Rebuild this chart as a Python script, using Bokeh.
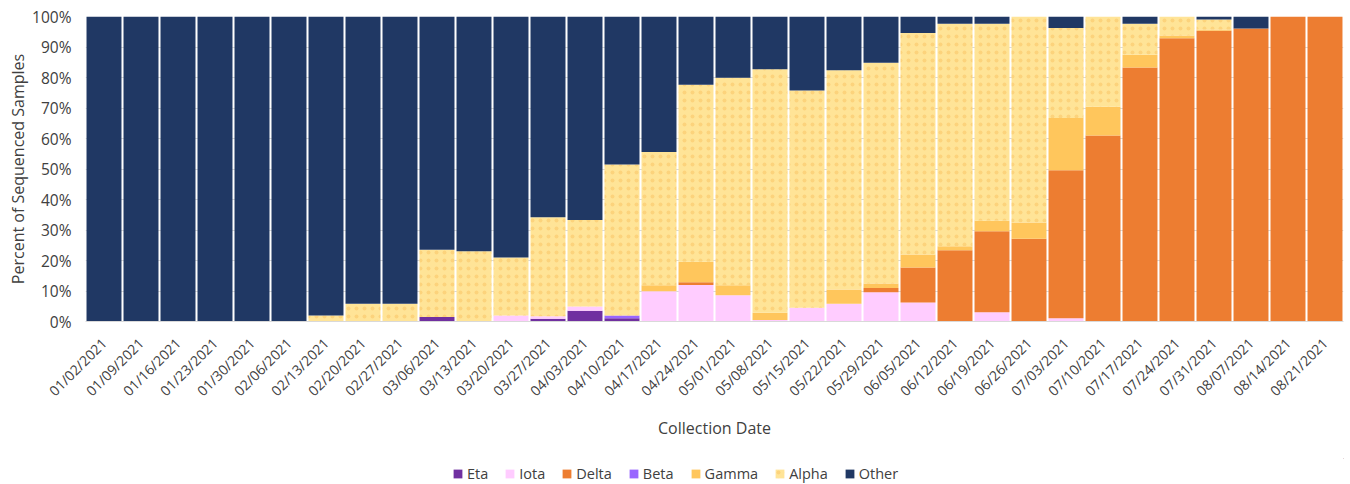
from bokeh.plotting import figure
from bokeh.models import Range1d, FactorRange, Legend, LegendItem, PrintfTickFormatter, FixedTicker
from bokeh.layouts import column
from bokeh.embed import file_html
from bokeh.resources import INLINE
import math

dates = ["01/02/2021", "01/09/2021", "01/16/2021", "01/23/2021", "01/30/2021", "02/06/2021",
         "02/13/2021", "02/20/2021", "02/27/2021", "03/06/2021", "03/13/2021", "03/20/2021",
         "03/27/2021", "04/03/2021", "04/10/2021", "04/17/2021", "04/24/2021", "05/01/2021",
         "05/08/2021", "05/15/2021", "05/22/2021", "05/29/2021", "06/05/2021", "06/12/2021",
         "06/19/2021", "06/26/2021", "07/03/2021", "07/10/2021", "07/17/2021", "07/24/2021",
         "07/31/2021", "08/07/2021", "08/14/2021", "08/21/2021"]

eta = [0, 0, 0, 0, 0, 0, 0, 0, 0, 1.5, 0, 0, 0.9, 3.5, 1.1, 0, 0, 0,
       0, 0, 0, 0, 0, 0, 0, 0, 0, 0, 0, 0, 0, 0, 0, 0]
iota = [0, 0, 0, 0, 0, 0, 0, 0, 0, 0, 0, 2.0, 0.8, 1.4, 0, 9.9, 12.0, 8.6,
        0.5, 4.5, 5.8, 9.6, 6.2, 0, 3.0, 0, 1.1, 0, 0, 0, 0, 0, 0, 0]
delta = [0, 0, 0, 0, 0, 0, 0, 0, 0, 0, 0, 0, 0, 0, 0, 0, 0.9, 0,
         0, 0, 0, 1.4, 11.5, 23.4, 26.6, 27.1, 48.5, 61.0, 83.3, 92.9, 95.3, 96.1, 100, 100]
beta = [0, 0, 0, 0, 0, 0, 0, 0, 0, 0, 0, 0, 0, 0, 0.9, 0, 0, 0,
        0, 0, 0, 0, 0, 0, 0, 0, 0, 0, 0, 0, 0, 0, 0, 0]
gamma = [0, 0, 0, 0, 0, 0, 0, 0, 0, 0, 0, 0, 0, 0, 0, 2.0, 6.7, 3.3,
         2.4, 0, 4.7, 1.5, 4.3, 1.3, 3.4, 5.4, 17.1, 9.4, 4.2, 0.9, 0.4, 0, 0, 0]
alpha = [0, 0, 0, 0, 0, 0, 2.0, 5.8, 5.8, 22.0, 23.0, 19.0, 32.5, 28.4, 49.5, 43.7, 58.0, 68.0,
         79.8, 71.2, 71.9, 72.3, 72.6, 72.9, 64.6, 67.5, 29.5, 29.6, 10.1, 6.2, 3.3, 0, 0, 0]
other = [100, 100, 100, 100, 100, 100, 98.0, 94.2, 94.2, 76.5, 77.0, 79.0, 65.8, 66.7, 48.5, 44.4, 22.4, 20.1,
         17.3, 24.3, 17.6, 15.2, 5.4, 2.4, 2.4, 0, 3.8, 0, 2.4, 0, 1.0, 3.9, 0, 0]

series = ["Eta", "Iota", "Delta", "Beta", "Gamma", "Alpha", "Other"]
colors = ["#7030a0", "#ffccff", "#ed7d31", "#9966ff", "#ffc65c", "#ffe497", "#203864"]
y_ticks = [0, 10, 20, 30, 40, 50, 60, 70, 80, 90, 100]

data = {"date": dates, "Eta": eta, "Iota": iota, "Delta": delta, "Beta": beta,
        "Gamma": gamma, "Alpha": alpha, "Other": other}

FONT = "Open Sans"
TXT = "#404040"


def style_alpha(glyph):
    glyph.hatch_pattern = "dot"
    glyph.hatch_color = "#f5b44a"
    glyph.hatch_alpha = 0.35
    glyph.hatch_scale = 8
    glyph.hatch_weight = 1


p = figure(width=1350, height=458, x_range=FactorRange(*dates), y_range=Range1d(0, 100),
           output_backend="svg", toolbar_location=None,
           min_border_left=85, min_border_right=7, min_border_top=16, min_border_bottom=137)
p.outline_line_color = None

renderers = p.vbar_stack(series, x="date", width=0.945, color=colors, line_color=None, source=data)
style_alpha(renderers[5].glyph)

p.xgrid.grid_line_color = None
p.ygrid.grid_line_color = "#d9d9d9"
p.ygrid.grid_line_width = 1

p.yaxis.ticker = FixedTicker(ticks=y_ticks)
p.yaxis.formatter = PrintfTickFormatter(format="%d%%")
p.yaxis.axis_line_color = None
p.yaxis.major_tick_line_color = None
p.yaxis.minor_tick_line_color = None
p.yaxis.major_tick_out = 0
p.yaxis.major_tick_in = 0
p.yaxis.major_label_standoff = 14
p.yaxis.major_label_text_font = FONT
p.yaxis.major_label_text_font_size = "15.5px"
p.yaxis.major_label_text_color = TXT
p.yaxis.axis_label = "Percent of Sequenced Samples"
p.yaxis.axis_label_text_font = FONT
p.yaxis.axis_label_text_font_size = "16px"
p.yaxis.axis_label_text_font_style = "normal"
p.yaxis.axis_label_text_color = TXT
p.yaxis.axis_label_standoff = 0

p.xaxis.axis_line_color = "#d9d9d9"
p.xaxis.major_tick_line_color = None
p.xaxis.minor_tick_line_color = None
p.xaxis.major_tick_out = 0
p.xaxis.major_tick_in = 0
p.xaxis.major_label_orientation = math.pi / 4
p.xaxis.major_label_text_font = FONT
p.xaxis.major_label_text_font_size = "14px"
p.xaxis.major_label_text_color = TXT
p.xaxis.major_label_standoff = 19
p.xaxis.axis_label = "Collection Date"
p.xaxis.axis_label_text_font = FONT
p.xaxis.axis_label_text_font_size = "16px"
p.xaxis.axis_label_text_font_style = "normal"
p.xaxis.axis_label_text_color = TXT
p.xaxis.axis_label_standoff = 8

# legend strip below the chart (its frame is aligned with the chart's frame)
lg = figure(width=1350, height=26, x_range=Range1d(0, 1), y_range=Range1d(0, 1),
            output_backend="svg", toolbar_location=None, x_axis_type=None, y_axis_type=None,
            min_border_left=85, min_border_right=7, min_border_top=0, min_border_bottom=0)
lg.outline_line_color = None
lg.xgrid.visible = False
lg.ygrid.visible = False
items = []
for s, c in zip(series, colors):
    r = lg.vbar(x=[10], top=[10], bottom=[9], width=0.5, color=c, line_color=None)
    if s == "Alpha":
        style_alpha(r.glyph)
    items.append(LegendItem(label=s, renderers=[r]))
legend = Legend(items=items, orientation="horizontal", location=(367, 1),
                glyph_width=11, glyph_height=11, label_standoff=4, spacing=16,
                label_text_font=FONT, label_text_font_size="14.5px", label_text_color=TXT,
                label_height=14, padding=0, margin=0,
                border_line_color=None, background_fill_alpha=0)
lg.add_layout(legend, "center")

layout = column(p, lg, spacing=0)
open("out.html", "w").write(file_html(layout, INLINE))
